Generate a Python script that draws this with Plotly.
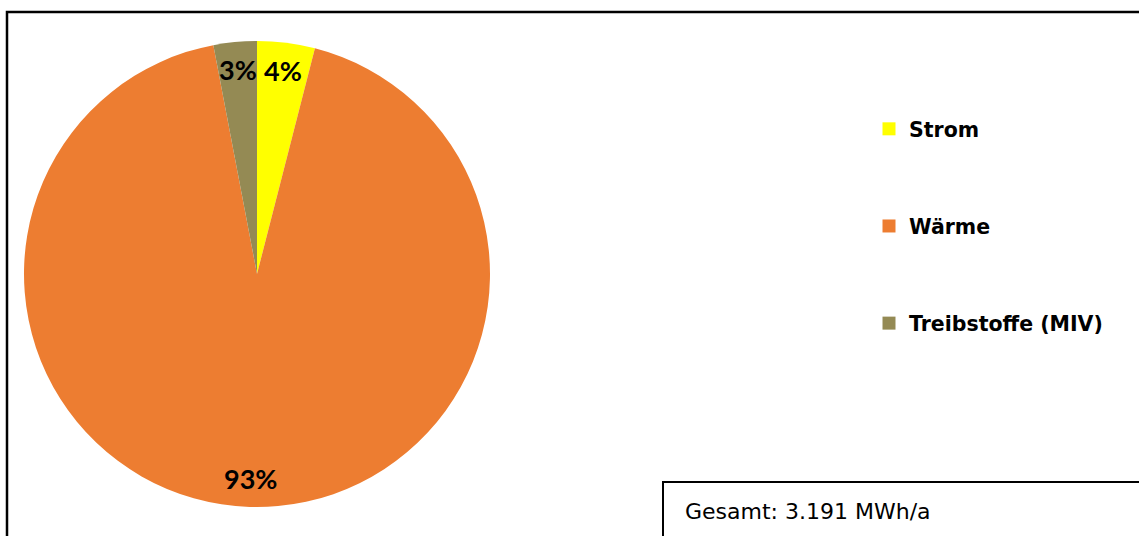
import math
import plotly.graph_objects as go

# Energy balance shares (percent)
categories = ["Strom", "Wärme", "Treibstoffe (MIV)"]
shares = [4, 93, 3]
colors = ["#FFFF00", "#ED7D31", "#948A54"]
total_label = "Gesamt: 3.191 MWh/a"

W, H = 1139, 536

# Pie placement in pixels
cx, cy, rad = 257, 274, 233
dom_x = [(cx - rad) / W, (cx + rad) / W]
dom_y = [1 - (cy + rad) / H, 1 - (cy - rad) / H]

fig = go.Figure()
fig.add_trace(go.Pie(
    labels=categories,
    values=shares,
    marker=dict(colors=colors, line=dict(width=0)),
    sort=False,
    direction="clockwise",
    rotation=0,
    textinfo="none",
    hoverinfo="label+percent",
    showlegend=False,
    domain=dict(x=dom_x, y=dom_y),
))

# Legend entries with wide vertical spacing
for i, (name, col) in enumerate(zip(categories, colors)):
    fig.add_trace(go.Scatter(
        x=[None], y=[None], mode="markers", name=name,
        marker=dict(symbol="square", size=13, color=col),
        legendgroup=f"g{i}", showlegend=True,
    ))

# Percentage labels at slice mid-angles
total = sum(shares)
start = 0.0
annotations = []
for v in shares:
    frac = v / total
    mid = (start + frac / 2) * 2 * math.pi
    start += frac
    r = rad * 0.88
    px = cx + r * math.sin(mid)
    py = cy - r * math.cos(mid)
    annotations.append(dict(
        x=px / W, y=1 - py / H, xref="paper", yref="paper",
        text=f"<b>{round(v)}%</b>", showarrow=False,
        font=dict(family="Lato", size=27, color="#000000"),
        xanchor="center", yanchor="middle",
    ))

annotations.append(dict(
    x=683 / W, y=1 - 511 / H, xref="paper", yref="paper",
    text=total_label, showarrow=False, xanchor="left", yanchor="middle",
    font=dict(family="DejaVu Sans", size=22, color="#000000"),
))

shapes = [
    # outer chart frame
    dict(type="rect", xref="paper", yref="paper",
         x0=7 / W, x1=1.2, y0=-0.2, y1=1 - 12 / H,
         line=dict(color="#000000", width=2.5), fillcolor="rgba(0,0,0,0)"),
    # total box
    dict(type="rect", xref="paper", yref="paper",
         x0=663 / W, x1=1.2, y0=-0.2, y1=1 - 482 / H,
         line=dict(color="#000000", width=2), fillcolor="rgba(0,0,0,0)"),
]

fig.update_layout(
    width=W, height=H,
    margin=dict(l=0, r=0, t=0, b=0),
    paper_bgcolor="white", plot_bgcolor="white",
    xaxis=dict(visible=False), yaxis=dict(visible=False),
    showlegend=True,
    legend=dict(
        x=869 / W, y=1 - 109 / H, xanchor="left", yanchor="top",
        font=dict(family="DejaVu Sans", size=20.5, color="#000000", weight="bold"),
        tracegroupgap=67.5, bgcolor="rgba(0,0,0,0)",
    ),
    annotations=annotations,
    shapes=shapes,
)

fig.write_html("out.html")
